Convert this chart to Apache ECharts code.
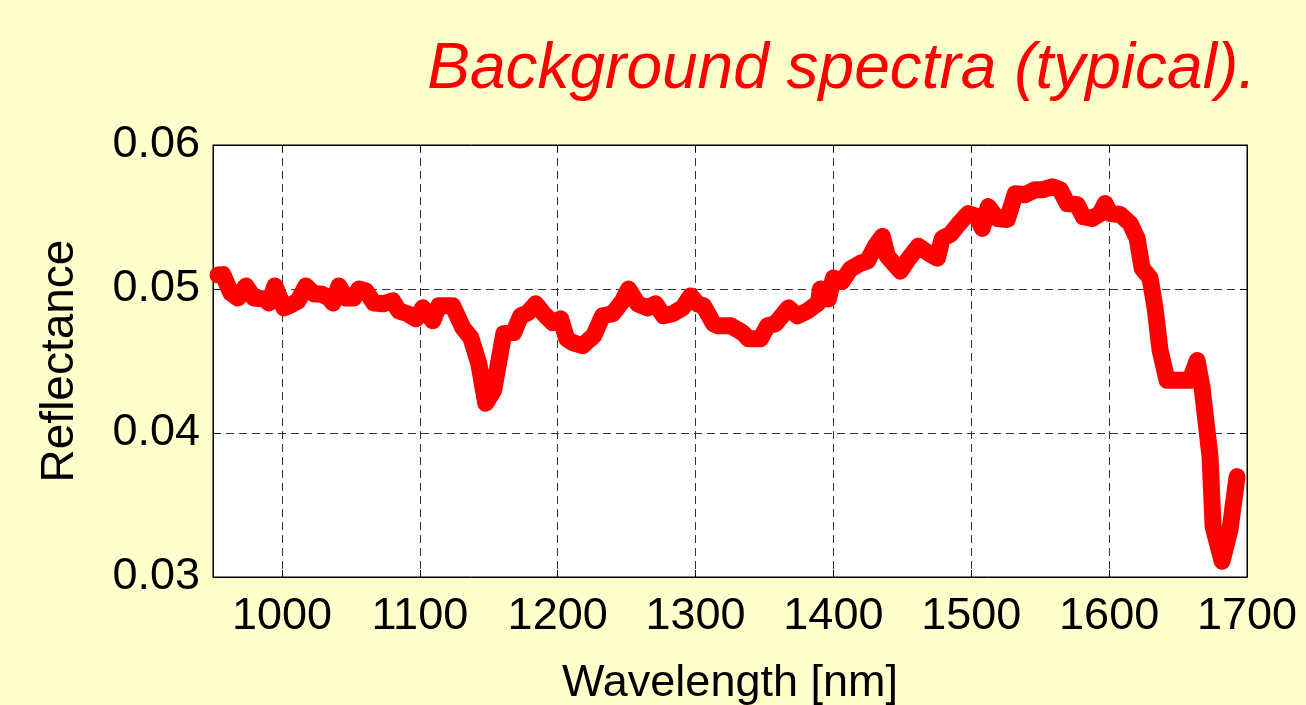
<!DOCTYPE html>
<html>
<head>
<meta charset="utf-8">
<script src="https://cdn.jsdelivr.net/npm/echarts@6/dist/echarts.min.js"></script>
<style>
html,body{margin:0;padding:0;background:#FFFFCC;}
#chart{width:1306px;height:705px;}
</style>
</head>
<body>
<div id="chart"></div>
<script>
const titleText = 'Background spectra (typical).';
const xName = 'Wavelength [nm]';
const yName = 'Reflectance';
const xMin = 950, xMax = 1700;
const yMin = 0.03, yMax = 0.06, yStep = 0.01;

const wavelengths = [
  953.6, 957.2, 963.0, 968.1, 973.9, 979.7, 987.0, 990.6, 994.9, 1001.4,
  1005.1, 1011.6, 1017.4, 1023.2, 1028.3, 1034.1, 1037.0, 1041.3, 1046.4, 1052.2,
  1055.8, 1060.9, 1066.7, 1073.2, 1080.4, 1084.8, 1091.3, 1097.1, 1102.2, 1109.4,
  1113.8, 1123.9, 1131.2, 1137.0, 1142.8, 1147.8, 1153.6, 1160.9, 1168.1, 1173.2,
  1178.3, 1184.1, 1189.9, 1196.4, 1202.2, 1206.5, 1210.9, 1218.1, 1226.1, 1232.6,
  1239.9, 1247.1, 1251.4, 1258.0, 1265.2, 1271.0, 1276.8, 1283.3, 1290.6, 1296.4,
  1301.4, 1305.8, 1313.0, 1316.0, 1325.4, 1334.1, 1338.4, 1347.1, 1352.2, 1358.0,
  1367.4, 1373.9, 1381.2, 1389.1, 1390.6, 1396.4, 1400.0, 1406.5, 1412.3, 1419.6,
  1424.6, 1430.4, 1435.5, 1439.1, 1448.6, 1454.3, 1461.6, 1470.3, 1475.4, 1479.0,
  1484.8, 1490.6, 1495.7, 1497.8, 1504.3, 1508.0, 1512.3, 1518.8, 1526.1, 1531.9,
  1539.1, 1546.4, 1552.2, 1558.7, 1564.5, 1569.6, 1576.8, 1581.2, 1587.7, 1593.5,
  1597.1, 1600.7, 1608.0, 1615.2, 1620.3, 1623.9, 1629.7, 1633.3, 1637.0, 1642.0,
  1651.4, 1658.7, 1663.8, 1667.4, 1673.2, 1675.4, 1681.9, 1687.7, 1692.8
];

const reflectance = [
  0.05097, 0.05100, 0.04972, 0.04938, 0.05021, 0.04938, 0.04931, 0.04903, 0.05021, 0.04869,
  0.04883, 0.04917, 0.05021, 0.04966, 0.04966, 0.04938, 0.04903, 0.05021, 0.04938, 0.04938,
  0.05000, 0.04986, 0.04903, 0.04897, 0.04917, 0.04848, 0.04828, 0.04793, 0.04869, 0.04779,
  0.04883, 0.04883, 0.04731, 0.04662, 0.04483, 0.04207, 0.04297, 0.04690, 0.04697, 0.04814,
  0.04834, 0.04897, 0.04828, 0.04766, 0.04793, 0.04655, 0.04628, 0.04607, 0.04676, 0.04814,
  0.04828, 0.04917, 0.05000, 0.04897, 0.04869, 0.04897, 0.04814, 0.04828, 0.04869, 0.04952,
  0.04897, 0.04883, 0.04759, 0.04745, 0.04745, 0.04697, 0.04655, 0.04655, 0.04745, 0.04759,
  0.04869, 0.04814, 0.04848, 0.04903, 0.05000, 0.04931, 0.05076, 0.05055, 0.05138, 0.05179,
  0.05193, 0.05297, 0.05366, 0.05228, 0.05124, 0.05207, 0.05297, 0.05241, 0.05214, 0.05352,
  0.05379, 0.05448, 0.05503, 0.05524, 0.05503, 0.05421, 0.05572, 0.05490, 0.05483, 0.05662,
  0.05655, 0.05690, 0.05690, 0.05710, 0.05690, 0.05593, 0.05586, 0.05503, 0.05490, 0.05524,
  0.05593, 0.05524, 0.05517, 0.05455, 0.05352, 0.05145, 0.05076, 0.04869, 0.04572, 0.04366,
  0.04366, 0.04366, 0.04503, 0.04317, 0.03834, 0.03352, 0.03110, 0.03331, 0.03697
];

const points = wavelengths.map((w, i) => [w, reflectance[i]]);
const FONT = 'Liberation Sans';

const chart = echarts.init(document.getElementById('chart'), null, {renderer: 'canvas'});
const gridLine = {show: true, lineStyle: {color: '#333', type: [8, 5], width: 1}};
chart.setOption({
  backgroundColor: '#FFFFCC',
  animation: false,
  title: {
    text: titleText,
    right: 50, top: 38, padding: 0,
    textStyle: {color: '#ff0000', fontSize: 64, fontStyle: 'italic', fontWeight: 'normal', fontFamily: FONT}
  },
  grid: {
    left: 213, right: 59, top: 145, bottom: 128,
    containLabel: false, outerBoundsMode: 'none',
    show: true, backgroundColor: '#ffffff', borderColor: '#000', borderWidth: 1
  },
  xAxis: [{
    type: 'value', min: xMin, max: xMax, splitNumber: 7,
    name: xName, nameLocation: 'middle', nameGap: 84,
    nameTextStyle: {color: '#000', fontSize: 45, fontFamily: FONT},
    axisLine: {show: true, onZero: false, lineStyle: {color: '#000', width: 1}},
    axisTick: {show: true, inside: true, length: 7, lineStyle: {color: '#000'}},
    axisLabel: {color: '#000', fontSize: 45, fontFamily: FONT, margin: 17, showMinLabel: false, formatter: v => String(v)},
    splitLine: gridLine
  }, {
    type: 'value', min: xMin, max: xMax, splitNumber: 7, position: 'top',
    axisLine: {show: true, onZero: false, lineStyle: {color: '#000', width: 1}},
    axisTick: {show: true, inside: true, length: 7, lineStyle: {color: '#000'}},
    axisLabel: {show: false}, splitLine: {show: false}
  }],
  yAxis: [{
    type: 'value', min: yMin, max: yMax, interval: yStep,
    name: yName, nameLocation: 'middle', nameGap: 130,
    nameTextStyle: {color: '#000', fontSize: 46, fontFamily: FONT},
    axisLine: {show: true, onZero: false, lineStyle: {color: '#000', width: 1}},
    axisTick: {show: true, inside: true, length: 7, lineStyle: {color: '#000'}},
    axisLabel: {color: '#000', fontSize: 45, fontFamily: FONT, margin: 13, formatter: v => v.toFixed(2)},
    splitLine: gridLine
  }, {
    type: 'value', min: yMin, max: yMax, interval: yStep, position: 'right',
    axisLine: {show: true, onZero: false, lineStyle: {color: '#000', width: 1}},
    axisTick: {show: true, inside: true, length: 7, lineStyle: {color: '#000'}},
    axisLabel: {show: false}, splitLine: {show: false}
  }],
  series: [{
    type: 'line', data: points, xAxisIndex: 0, yAxisIndex: 0,
    showSymbol: false, symbol: 'none', smooth: false,
    lineStyle: {color: '#ff0000', width: 17, cap: 'round', join: 'round'}
  }]
});
</script>
</body>
</html>
